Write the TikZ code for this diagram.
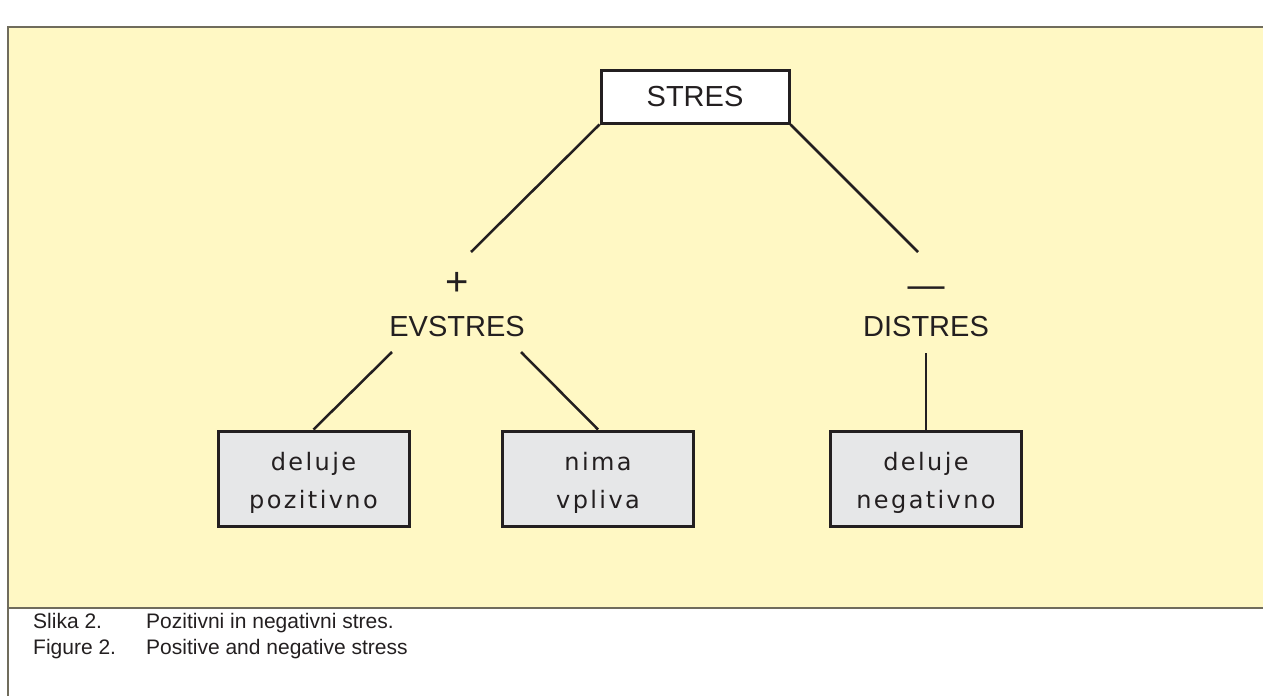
\documentclass[tikz,border=0pt]{standalone}
\usepackage{fontspec}
\setmainfont{Liberation Sans}
\newfontfamily\boxfont[LetterSpace=10]{DejaVu Sans}
\definecolor{panel}{RGB}{255,248,196}
\definecolor{rim}{RGB}{112,108,92}
\definecolor{ink}{RGB}{35,31,32}
\definecolor{boxgray}{RGB}{230,231,232}
\newcommand{\lowerline}{\rule{0pt}{26pt}}
\tikzset{
	word/.style={text=ink,font=\fontsize{29}{34}\selectfont,inner sep=0pt},
	topbox/.style={draw=ink,line width=3pt,fill=white,minimum width=188,minimum height=53,inner sep=0pt,text=ink,font=\fontsize{29}{34}\selectfont},
	leafbox/.style={draw=ink,line width=3pt,fill=boxgray,minimum width=191,minimum height=95,inner sep=0pt,align=center,text=ink,font=\boxfont\fontsize{24}{38}\selectfont},
	link/.style={draw=ink,line width=2.5pt},
	capt/.style={anchor=base west,text=ink,inner sep=0pt,font=\fontsize{21}{24}\selectfont}
}
\begin{document}
\begin{tikzpicture}[x=1pt,y=-1pt]
			\useasboundingbox (0,0) rectangle (1263,696);
			\fill[panel] (8,27) rectangle (1263,608);
			\draw[rim,line width=2pt] (1263,27)--(8,27)--(8,696);
			\draw[rim,line width=2pt] (8,608)--(1263,608);

			\node[topbox] (stres) at (695,96.5) {STRES};
			\node[word,font=\fontsize{40}{44}\selectfont] (plus) at (457,284) {+};
			\node[word,font=\fontsize{37}{40}\selectfont] (minus) at (926,292) {—};
			\node[word] (evstres) at (457,327) {EVSTRES};
			\node[word] (distres) at (926,327) {DISTRES};
			\node[leafbox] (pozitivno) at (313.5,478.5) {\lowerline deluje\\pozitivno};
			\node[leafbox] (nimavpliva) at (598,478.5) {\lowerline nima\\vpliva};
			\node[leafbox] (negativno) at (926,478.5) {\lowerline deluje\\negativno};

			\coordinate (evtop) at (471,252);
			\coordinate (distop) at (918,252);
			\coordinate (evleft) at (392,352);
			\coordinate (evright) at (521,352);
			\coordinate (disbot) at (926,353);

			\draw[link] (stres.south west)--(evtop);
			\draw[link] (stres.south east)--(distop);
			\draw[link] (evleft)--(pozitivno.north);
			\draw[link] (evright)--(nimavpliva.north);
			\draw[link] (disbot)--(negativno.north);

			\node[capt] (slika) at (33,628) {Slika 2.};
			\node[capt] (slikatxt) at (146,628) {Pozitivni in negativni stres.};
			\node[capt] (figure) at (33,654) {Figure 2.};
			\node[capt] (figuretxt) at (146,654) {Positive and negative stress};
		\end{tikzpicture}
\end{document}
